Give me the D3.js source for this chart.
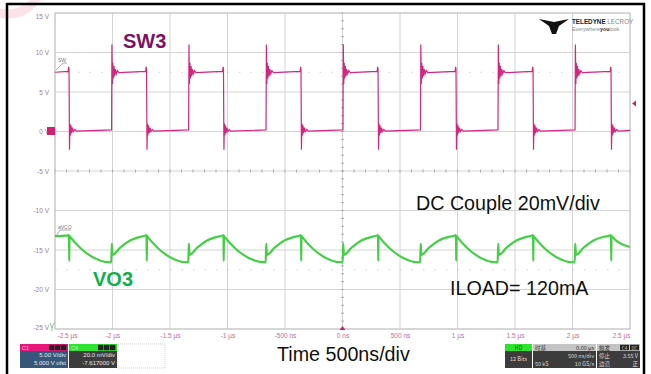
<!DOCTYPE html>
<html>
<head>
<meta charset="utf-8">
<script src="https://cdn.jsdelivr.net/npm/d3@7"></script>
<style>
  body { margin: 0; background: #fff; }
  svg { display: block; font-family: "Liberation Sans", Arial, sans-serif; }
</style>
</head>
<body>
<div id="chart"></div>
<script>
// time axis (ns) and channel 1 volts
const timeTicks = [-2500, -2000, -1500, -1000, -500, 0, 500, 1000, 1500, 2000, 2500];
const timeLabels = ["-2.5 µs", "-2 µs", "-1.5 µs", "-1 µs", "-500 ns", "0 ns", "500 ns", "1 µs", "1.5 µs", "2 µs", "2.5 µs"];
const voltTicks = [15, 10, 5, 0, -5, -10, -15, -20, -25];
const voltLabels = ["15 V", "10 V", "5 V", "0 V", "-5 V", "-10 V", "-15 V", "-20 V", "-25 V"];

// SW3 (C1, 5 V/div) edge times in ns
const swRise = [-2008, -1338, -665, 4, 678, 1352, 2022];
const swFall = [-2378, -1704, -1035, -361, 309, 987, 1657, 2335];
const swRiseRing = [[0, 0.2], [3, 11.0], [7, 6.0], [11, 8.7], [16, 6.7], [21, 8.3], [27, 7.0], [33, 7.9], [41, 7.3], [51, 7.7], [64, 7.45]];
const swFallRing = [[-8, 7.6], [-3, 8.2], [0, 7.9], [4, -2.3], [8, 1.0], [12, -0.5], [17, 0.8], [23, -0.2], [30, 0.5], [38, 0.0], [50, 0.25], [64, 0.05]];
const swStart = [-2500, 7.5];
const swEnd = [2500, 0.15];

// VO3 (C4, 20 mV/div, offset -7.617 V)
const voOffset = 7.617;
const voFallShape = [[-6, 7.5844], [0, 7.5846], [2, 7.5715], [4, 7.5842], [8, 7.5838]];
const voRiseShape = [[-3, 7.5707], [2, 7.5803], [8, 7.5745], [75, 7.5782], [160, 7.5818], [250, 7.5837]];
const voStart = [-2500, 7.5840];
const voEnd = [2500, 7.5785];

const width = 651, height = 374;
const plotL = 55, plotR = 630, plotT = 13, plotB = 329;

const svg = d3.select("#chart").append("svg")
  .attr("width", width).attr("height", height);

// pale watermark arc at top-left
svg.append("circle")
  .attr("cx", 8).attr("cy", -20).attr("r", 34)
  .attr("fill", "none").attr("stroke", "#fde2ea").attr("stroke-width", 9);

// outer frame
svg.append("line").attr("x1", 7).attr("x2", 645).attr("y1", 4).attr("y2", 4)
  .attr("stroke", "#000").attr("stroke-width", 2.5);
svg.append("line").attr("x1", 7).attr("x2", 7).attr("y1", 3).attr("y2", height)
  .attr("stroke", "#000").attr("stroke-width", 2.5);
svg.append("line").attr("x1", 644).attr("x2", 644).attr("y1", 3).attr("y2", height)
  .attr("stroke", "#000").attr("stroke-width", 2.5);

const x = d3.scaleLinear().domain([-2500, 2500]).range([plotL, plotR]);
const y = d3.scaleLinear().domain([-25, 15]).range([plotB, plotT]);
const y4 = d3.scaleLinear().domain([voOffset - 0.08, voOffset + 0.08]).range([plotB, plotT]);

// grid
const grid = svg.append("g");
grid.selectAll(".vg").data(timeTicks).join("line")
  .attr("x1", d => x(d)).attr("x2", d => x(d))
  .attr("y1", plotT).attr("y2", plotB)
  .attr("stroke", "#d4d4d4").attr("stroke-width", 1);
grid.selectAll(".hg").data(voltTicks).join("line")
  .attr("x1", plotL).attr("x2", plotR)
  .attr("y1", d => y(d)).attr("y2", d => y(d))
  .attr("stroke", "#d4d4d4").attr("stroke-width", 1);

// dotted level lines
[7.5, -17.5].forEach(v => {
  grid.append("line")
    .attr("x1", plotL).attr("x2", plotR).attr("y1", y(v)).attr("y2", y(v))
    .attr("stroke", "#d0d0d0").attr("stroke-width", 1.2)
    .attr("stroke-dasharray", "1.5,10");
});

// minor ticks on centre lines
const xMinor = d3.range(-2500, 2501, 100);
grid.selectAll(".xm").data(xMinor).join("line")
  .attr("x1", d => x(d)).attr("x2", d => x(d))
  .attr("y1", y(-5) - 1.5).attr("y2", y(-5) + 1.5)
  .attr("stroke", "#aaa");
const yMinor = d3.range(-25, 15.01, 1);
grid.selectAll(".ym").data(yMinor).join("line")
  .attr("x1", x(0) - 1.5).attr("x2", x(0) + 1.5)
  .attr("y1", d => y(d)).attr("y2", d => y(d))
  .attr("stroke", "#aaa");

// axis labels
const xAxis = svg.append("g")
  .attr("transform", `translate(0,${plotB + 1})`)
  .call(d3.axisBottom(x).tickValues(timeTicks).tickSize(0)
    .tickFormat((d, i) => timeLabels[i]));
xAxis.select(".domain").remove();
xAxis.selectAll("text")
  .attr("fill", "#cc6a9c").attr("font-size", 6.5)
  .attr("text-anchor", (d, i) => i === 0 ? "start" : i === timeTicks.length - 1 ? "end" : "middle")
  .attr("dx", (d, i) => i === 0 ? 2 : 0);

const yAxis = svg.append("g")
  .attr("transform", `translate(${plotL - 3},0)`)
  .call(d3.axisLeft(y).tickValues(voltTicks).tickSize(0)
    .tickFormat((d, i) => voltLabels[i]));
yAxis.select(".domain").remove();
yAxis.selectAll("text")
  .attr("fill", "#a27e92").attr("font-size", 6.5)
  .attr("dy", d => d === 15 ? "0.9em" : d === -25 ? "0" : "0.32em");

// plot border
svg.append("rect")
  .attr("x", plotL).attr("y", plotT).attr("width", plotR - plotL).attr("height", plotB - plotT)
  .attr("fill", "none").attr("stroke", "#c4c4c4").attr("stroke-width", 1);

// build SW3 points from edges + ringing shape
const swEvents = swRise.map(t => ({ t, shape: swRiseRing }))
  .concat(swFall.map(t => ({ t, shape: swFallRing })))
  .sort((a, b) => a.t - b.t);
const swPts = [swStart];
swEvents.forEach(e => e.shape.forEach(([dt, v]) => swPts.push([e.t + dt, v])));
swPts.push(swEnd);

const voEvents = swRise.map(t => ({ t, shape: voRiseShape }))
  .concat(swFall.map(t => ({ t, shape: voFallShape })))
  .sort((a, b) => a.t - b.t);
const voPts = [voStart];
voEvents.forEach(e => e.shape.forEach(([dt, v]) => voPts.push([e.t + dt, v])));
voPts.push(voEnd);

svg.append("clipPath").attr("id", "plot")
  .append("rect").attr("x", plotL).attr("y", plotT)
  .attr("width", plotR - plotL).attr("height", plotB - plotT);

const traces = svg.append("g").attr("clip-path", "url(#plot)");

traces.append("path")
  .datum(voPts)
  .attr("fill", "none").attr("stroke", "#44d044").attr("stroke-width", 2.2)
  .attr("stroke-linejoin", "round")
  .attr("d", d3.line().curve(d3.curveMonotoneX).x(d => x(d[0])).y(d => y4(d[1])));

traces.append("path")
  .datum(swPts)
  .attr("fill", "none").attr("stroke", "#d42680").attr("stroke-width", 1.2)
  .attr("d", d3.line().x(d => x(d[0])).y(d => y(d[1])));

// trace labels
svg.append("text").attr("x", 58).attr("y", 62).text("SW")
  .attr("font-size", 5).attr("fill", "#777");
svg.append("path").attr("d", "M56,70 L63,63 L67,63").attr("fill", "none").attr("stroke", "#888").attr("stroke-width", 0.7);
svg.append("text").attr("x", 58).attr("y", 229).text("aVCO")
  .attr("font-size", 5).attr("fill", "#777");
svg.append("path").attr("d", "M56,236 L60,230 L71,230").attr("fill", "none").attr("stroke", "#888").attr("stroke-width", 0.7);

// channel markers
svg.append("rect").attr("x", 47).attr("y", y(0) - 4.5).attr("width", 8).attr("height", 8)
  .attr("fill", "#d0206f");
svg.append("path").attr("d", `M${plotR + 6},${y(3.55) - 3} L${plotR + 2},${y(3.55)} L${plotR + 6},${y(3.55) + 3} Z`)
  .attr("fill", "#d0206f");
svg.append("path").attr("d", `M${x(0) - 3},${plotB + 1} L${x(0)},${plotB - 3} L${x(0) + 3},${plotB + 1} Z`)
  .attr("fill", "#d0206f");
svg.append("path").attr("d", `M50,${plotB - 6} L52,${plotB - 1} L54,${plotB - 6} M52,${plotB - 1} L52,${plotB + 2}`)
  .attr("fill", "none").attr("stroke", "#60c060").attr("stroke-width", 0.8);

// annotations
svg.append("text").attr("x", 123).attr("y", 48).text("SW3")
  .attr("font-size", 20).attr("font-weight", "bold").attr("fill", "#7b1464");
svg.append("text").attr("x", 93).attr("y", 286).text("VO3")
  .attr("font-size", 20).attr("font-weight", "bold").attr("fill", "#10b04a");
svg.append("text").attr("x", 416).attr("y", 210).text("DC Couple 20mV/div")
  .attr("font-size", 19.7).attr("fill", "#111");
svg.append("text").attr("x", 450).attr("y", 295).text("ILOAD= 120mA")
  .attr("font-size", 19.7).attr("fill", "#111");
svg.append("text").attr("x", 277).attr("y", 361).text("Time 500ns/div")
  .attr("font-size", 19.7).attr("fill", "#111");

// logo
svg.append("path")
  .attr("d", "M539,19 L554,22 L569,19 L559,26 L556,34 L552,34 L549,26 Z")
  .attr("fill", "#111");
const logo = svg.append("text").attr("x", 572).attr("y", 24).attr("font-size", 6.3).attr("font-weight", "bold");
logo.append("tspan").text("TELEDYNE ").attr("fill", "#222");
logo.append("tspan").text("LECROY").attr("fill", "#888").attr("font-weight", "normal");
const tag = svg.append("text").attr("x", 572).attr("y", 31).attr("font-size", 5.3).attr("fill", "#888");
tag.append("tspan").text("Everywhere");
tag.append("tspan").text("you").attr("font-weight", "bold").attr("fill", "#333");
tag.append("tspan").text("look");

// channel info boxes
const chanBoxes = [
  { x: 20, w: 48, head: "#e5177b", body: "#37577a", name: "C1", lines: ["5.00 V/div", "5.000 V ofst"] },
  { x: 69, w: 48, head: "#2fe22f", body: "#3c3c3c", name: "C4", lines: ["20.0 mV/div", "-7.617000 V"] }
];
const boxTop = 344;
chanBoxes.forEach(b => {
  svg.append("rect").attr("x", b.x).attr("y", boxTop).attr("width", b.w).attr("height", 7).attr("fill", b.head);
  svg.append("rect").attr("x", b.x).attr("y", boxTop + 7).attr("width", b.w).attr("height", 17).attr("fill", b.body);
  svg.append("text").attr("x", b.x + 2).attr("y", boxTop + 5.7).text(b.name).attr("font-size", 5.5).attr("fill", "#fff").attr("opacity", 0.7);
  [0, 1, 2].forEach(k => {
    svg.append("rect").attr("x", b.x + b.w - 19 + k * 6).attr("y", boxTop + 0.8).attr("width", 5.4).attr("height", 5.4).attr("fill", "#222");
  });
  b.lines.forEach((t, i) => {
    svg.append("text").attr("x", b.x + b.w - 2).attr("y", boxTop + 13 + i * 7.5).text(t)
      .attr("font-size", 6).attr("fill", "#e8e8e8").attr("text-anchor", "end");
  });
});
svg.append("rect").attr("x", 118).attr("y", boxTop).attr("width", 47).attr("height", 24)
  .attr("fill", "none").attr("stroke", "#bbb").attr("stroke-dasharray", "1,1").attr("stroke-width", 0.7);

// acquisition / timebase / trigger boxes
const cjk = '"Noto Sans CJK SC", "Liberation Sans", sans-serif';
const acq = svg.append("g").attr("font-family", cjk);
acq.append("rect").attr("x", 505).attr("y", boxTop).attr("width", 27).attr("height", 7).attr("fill", "#2fe22f");
acq.append("rect").attr("x", 505).attr("y", boxTop + 7).attr("width", 27).attr("height", 17).attr("fill", "#3c3c3c");
acq.append("text").attr("x", 518.5).attr("y", boxTop + 5.8).text("HD").attr("font-size", 5.5).attr("fill", "#1a5a1a").attr("text-anchor", "middle");
acq.append("text").attr("x", 518.5).attr("y", boxTop + 17).text("12 Bits").attr("font-size", 5.5).attr("fill", "#ddd").attr("text-anchor", "middle");

acq.append("rect").attr("x", 533).attr("y", boxTop).attr("width", 63).attr("height", 7).attr("fill", "#c4c4c4");
acq.append("rect").attr("x", 533).attr("y", boxTop + 7).attr("width", 63).attr("height", 17).attr("fill", "#3c3c3c");
acq.append("text").attr("x", 535).attr("y", boxTop + 6).text("时基").attr("font-size", 5.5).attr("fill", "#333");
acq.append("text").attr("x", 594).attr("y", boxTop + 6).text("0.00 µs").attr("font-size", 5.5).attr("fill", "#333").attr("text-anchor", "end");
acq.append("text").attr("x", 594).attr("y", boxTop + 13.5).text("500 ns/div").attr("font-size", 5.5).attr("fill", "#ddd").attr("text-anchor", "end");
acq.append("text").attr("x", 535).attr("y", boxTop + 21.5).text("50 kS").attr("font-size", 5.5).attr("fill", "#ddd");
acq.append("text").attr("x", 594).attr("y", boxTop + 21.5).text("10 GS/s").attr("font-size", 5.5).attr("fill", "#ddd").attr("text-anchor", "end");

acq.append("rect").attr("x", 597).attr("y", boxTop).attr("width", 43).attr("height", 7).attr("fill", "#c4c4c4");
acq.append("rect").attr("x", 597).attr("y", boxTop + 7).attr("width", 43).attr("height", 17).attr("fill", "#3c3c3c");
acq.append("text").attr("x", 599).attr("y", boxTop + 6).text("触发").attr("font-size", 5.5).attr("fill", "#333");
acq.append("rect").attr("x", 620).attr("y", boxTop + 0.8).attr("width", 9).attr("height", 5.4).attr("fill", "#222");
acq.append("rect").attr("x", 630).attr("y", boxTop + 0.8).attr("width", 9).attr("height", 5.4).attr("fill", "#222");
acq.append("text").attr("x", 624.5).attr("y", boxTop + 5.5).text("C4").attr("font-size", 4.5).attr("fill", "#ccc").attr("text-anchor", "middle");
acq.append("text").attr("x", 634.5).attr("y", boxTop + 5.5).text("DC").attr("font-size", 4.5).attr("fill", "#ccc").attr("text-anchor", "middle");
acq.append("text").attr("x", 599).attr("y", boxTop + 14).text("停止").attr("font-size", 5.5).attr("fill", "#ddd");
acq.append("text").attr("x", 638).attr("y", boxTop + 14).text("3.55 V").attr("font-size", 5.5).attr("fill", "#ddd").attr("text-anchor", "end");
acq.append("text").attr("x", 599).attr("y", boxTop + 22).text("边沿").attr("font-size", 5.5).attr("fill", "#ddd");
acq.append("text").attr("x", 638).attr("y", boxTop + 22).text("正").attr("font-size", 5.5).attr("fill", "#ddd").attr("text-anchor", "end");
</script>
</body>
</html>
